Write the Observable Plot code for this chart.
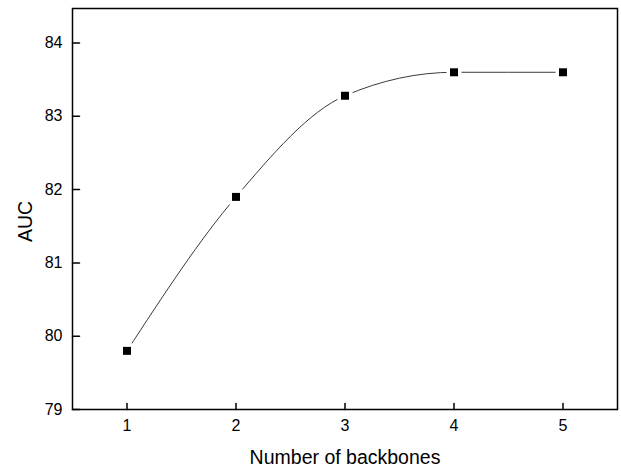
<!DOCTYPE html>
<html><head><meta charset="utf-8">
<script src="https://cdn.jsdelivr.net/npm/d3@7"></script>
<script src="https://cdn.jsdelivr.net/npm/@observablehq/plot@0.6"></script>
<style>
body{margin:0;background:#fff}
svg{display:block}
g[aria-label="x-axis label"]{font-size:19.5px}
</style>
</head><body><div id="chart"></div>
<script>
const backbones = [1, 2, 3, 4, 5];
const auc = [79.8, 81.9, 83.28, 83.6, 83.6];
const xTicks = [1, 2, 3, 4, 5];
const yTicks = [79, 80, 81, 82, 83, 84];
const yLabel = ["AUC"];
const data = backbones.map((b, i) => ({b, auc: auc[i]}));
const tickShape = {draw(ctx, l) { ctx.moveTo(0, 0); ctx.lineTo(0, -l); }};
const chart = Plot.plot({
  width: 621, height: 466,
  marginLeft: 72, marginTop: 8, marginRight: 4, marginBottom: 57,
  style: {fontFamily: "'Liberation Sans', Arial, sans-serif", background: "#fff", color: "#000"},
  x: {domain: [0.5, 5.5]},
  y: {domain: [79, 84.47]},
  marks: [
    Plot.line(data, {x: "b", y: "auc", curve: "monotone-x", stroke: "#3a3a3a", strokeWidth: 1}),
    Plot.dot(data, {x: "b", y: "auc", symbol: "square", r: 8.5, fill: "white", stroke: "none"}),
    Plot.dot(data, {x: "b", y: "auc", symbol: "square", r: 4.5, fill: "black", stroke: "none"}),
    Plot.vector(xTicks, {x: d => d, frameAnchor: "bottom", length: 6, anchor: "start", rotate: 0, shape: tickShape, stroke: "black", strokeWidth: 1.5}),
    Plot.vector(yTicks, {y: d => d, frameAnchor: "left", length: 7, anchor: "start", rotate: 90, shape: tickShape, stroke: "black", strokeWidth: 1.5}),
    Plot.frame({stroke: "black", strokeWidth: 1.5}),
    Plot.axisX({ticks: xTicks, tickFormat: "d", tickSize: 0, tickPadding: 10, fontSize: 16, label: "Number of backbones", labelAnchor: "center", labelOffset: 54, labelArrow: "none"}),
    Plot.axisY({ticks: yTicks, tickFormat: "d", tickSize: 0, tickPadding: 10, fontSize: 16, label: null}),
    Plot.text(yLabel, {text: d => d, frameAnchor: "left", textAnchor: "middle", lineAnchor: "middle", rotate: -90, dx: -47, dy: 12.5, fontSize: 19.5, fill: "black"})
  ]
});
document.getElementById("chart").appendChild(chart);
</script>
</body></html>
